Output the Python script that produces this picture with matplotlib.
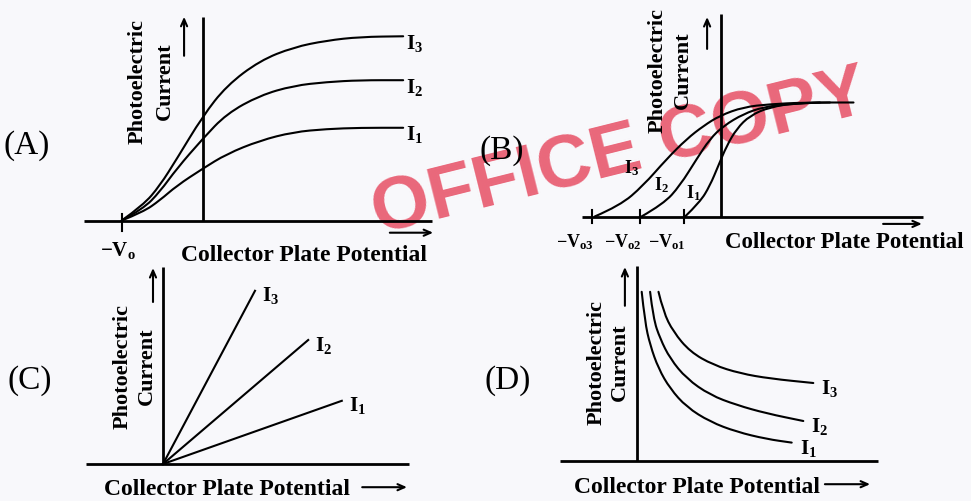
import matplotlib.pyplot as plt
from matplotlib.path import Path
from matplotlib.patches import PathPatch

W, H = 971, 502

plt.rcParams['font.family'] = ['Liberation Serif', 'DejaVu Serif']
plt.rcParams['mathtext.fontset'] = 'custom'
plt.rcParams['mathtext.rm'] = 'Liberation Serif'
plt.rcParams['mathtext.bf'] = 'Liberation Serif:bold'
plt.rcParams['mathtext.it'] = 'Liberation Serif:italic'

# ---- valeurs (potentiel, courant en unites arbitraires) ----
LABELS = [r'$\mathbf{I_1}$', r'$\mathbf{I_2}$', r'$\mathbf{I_3}$']

# (A) meme potentiel d'arret, courants de saturation differents
A_V = [-2.0, -1.47, -1.06, -0.64, 0.0, 0.59, 1.41, 2.24, 3.06, 3.89, 4.95]
A_I1 = [0, 0.14, 0.33, 0.57, 0.85, 1.09, 1.31, 1.45, 1.50, 1.52, 1.52]
A_I2 = [0, 0.19, 0.47, 0.85, 1.34, 1.75, 2.05, 2.21, 2.27, 2.30, 2.30]
A_I3 = [0, 0.25, 0.57, 1.01, 1.71, 2.21, 2.62, 2.84, 2.95, 3.01, 3.02]
A_STOP = -2.0

# (B) potentiels d'arret differents, meme saturation
B_STOP = [-0.93, -2.02, -3.23]
B_TICKS = [r'$\mathbf{-V_{o1}}$', r'$\mathbf{-V_{o2}}$', r'$\mathbf{-V_{o3}}$']
B_I1_V = [-0.89, -0.52, -0.27, -0.06, 0.15, 0.40, 0.73, 1.23, 1.90, 2.73]
B_I1 = [0, 0.25, 0.54, 0.89, 1.24, 1.54, 1.77, 1.92, 1.99, 2.0]
B_I2_V = [-1.98, -1.43, -1.02, -0.60, -0.27, 0.07, 0.57, 1.07, 1.65, 2.48]
B_I2 = [0, 0.22, 0.54, 1.01, 1.36, 1.59, 1.80, 1.92, 1.97, 2.0]
B_I3_V = [-3.15, -2.52, -1.94, -1.35, -0.85, -0.43, -0.02, 0.57, 1.23, 2.07, 3.32]
B_I3 = [0, 0.19, 0.54, 1.01, 1.36, 1.59, 1.77, 1.92, 1.97, 2.0, 2.0]

# (C) droites passant par l'origine (extremites)
C_END_V = [4.47, 3.63, 2.30]
C_END_I = [1.58, 3.10, 4.33]

# (D) courbes decroissantes
D_I1_V = [0.13, 0.21, 0.34, 0.55, 0.84, 1.25, 1.84, 2.50, 3.25, 3.88]
D_I1 = [4.23, 3.48, 2.90, 2.31, 1.81, 1.35, 0.98, 0.73, 0.55, 0.46]
D_I2_V = [0.34, 0.42, 0.59, 0.84, 1.25, 1.84, 2.50, 3.25, 4.17]
D_I2 = [4.23, 3.56, 3.06, 2.56, 2.06, 1.65, 1.40, 1.19, 1.00]
D_I3_V = [0.55, 0.67, 0.92, 1.34, 1.92, 2.59, 3.34, 4.42]
D_I3 = [4.23, 3.73, 3.23, 2.73, 2.40, 2.19, 2.06, 1.95]

AX_LW = 2.0
CURVE_LW = 1.5


def panel(fig, x0, y0, sx, sy):
    """Axes sur toute la figure, origine des donnees au pixel (x0, y0)."""
    ax = fig.add_axes([0, 0, 1, 1])
    ax.set_xlim(-x0 / sx, (W - x0) / sx)
    ax.set_ylim(-(H - y0) / sy, y0 / sy)
    ax.axis('off')
    ax.patch.set_alpha(0)
    return ax


def smooth(ax, xs, ys):
    pts = list(zip(xs, ys))
    verts, codes = [pts[0]], [Path.MOVETO]
    for i in range(1, len(pts) - 1):
        mid = ((pts[i][0] + pts[i + 1][0]) / 2, (pts[i][1] + pts[i + 1][1]) / 2)
        verts += [pts[i], mid]
        codes += [Path.CURVE3, Path.CURVE3]
    verts.append(pts[-1])
    codes.append(Path.LINETO)
    ax.add_patch(PathPatch(Path(verts, codes), fill=False, lw=CURVE_LW,
                           ec='black', capstyle='round'))


def arrow(ax, start, end):
    ax.annotate('', xy=end, xytext=start,
                arrowprops=dict(arrowstyle='->, head_length=0.5, head_width=0.22',
                                lw=1.5, color='black', shrinkA=0, shrinkB=0))


def axes_lines(ax, xmin, xmax, ymax):
    ax.plot([xmin, xmax], [0, 0], color='black', lw=AX_LW, solid_capstyle='butt')
    ax.plot([0, 0], [0, ymax], color='black', lw=AX_LW, solid_capstyle='butt')


def ylabel(ax, x1, x2, y, ax_arrow, y_arrow):
    ax.text(x1, y, 'Photoelectric', rotation=90, ha='center', va='center',
            fontsize=16, fontweight='bold')
    ax.text(x2, y, 'Current', rotation=90, ha='center', va='center',
            fontsize=16, fontweight='bold')
    arrow(ax, (ax_arrow, y_arrow[0]), (ax_arrow, y_arrow[1]))


def bold(ax, x, y, s, size=17, **kw):
    ax.text(x, y, s, fontsize=size, fontweight='bold', va='center', **kw)


fig = plt.figure(figsize=(W / 100, H / 100), dpi=100, facecolor='#f8f8fb')

# tampon "OFFICE COPY" sous les traces
bg = fig.add_axes([0, 0, 1, 1])
bg.axis('off')
bg.text(0.638, 0.695, 'OFFICE COPY', transform=bg.transAxes, fontsize=54,
        family='Liberation Sans', fontweight='bold', color='#e6435a', alpha=0.8,
        rotation=14, ha='center', va='center', rotation_mode='anchor')

# ---------------- (A) ----------------
ax = panel(fig, 202.7, 221.5, 40.5, 61)
axes_lines(ax, -2.93, 5.65, 3.34)
ax.plot([A_STOP, A_STOP], [-0.17, 0.1], color='black', lw=1.5)
for ys, lab in zip([A_I1, A_I2, A_I3], LABELS):
    smooth(ax, A_V, ys)
    bold(ax, A_V[-1] + 0.08, ys[-1] - 0.1, lab, size=15)
arrow(ax, (4.62, -0.2), (5.69, -0.2))
bold(ax, -2.09, -0.47, r'$\mathbf{-V_o}$', size=15, ha='center')
bold(ax, 2.5, -0.55, 'Collector Plate Potential', ha='center')
ylabel(ax, -1.6, -0.93, 2.3, -0.46, (2.7, 3.34))
ax.text(-4.34, 1.24, '(A)', fontsize=24, ha='center', va='center')

# ---------------- (B) ----------------
ax = panel(fig, 720.7, 217.5, 40, 57)
axes_lines(ax, -3.48, 5.06, 3.55)
for v in B_STOP:
    ax.plot([v, v], [-0.12, 0.12], color='black', lw=1.5)
for v, lab in zip(B_STOP, B_TICKS):
    bold(ax, v - 0.42, -0.43, lab, size=13, ha='center')
for xs, ys in [(B_I1_V, B_I1), (B_I2_V, B_I2), (B_I3_V, B_I3)]:
    smooth(ax, xs, ys)
for (x, y), lab in zip([(-0.69, 0.43), (-1.49, 0.57), (-2.22, 0.87)], LABELS):
    bold(ax, x, y, lab, size=13, ha='center')
arrow(ax, (4.06, -0.13), (5.03, -0.13))
bold(ax, 0.1, -0.43, 'Collector Plate Potential', size=16.5, ha='left')
ylabel(ax, -1.57, -0.94, 2.58, -0.34, (2.94, 3.5))
ax.text(-5.47, 1.18, '(B)', fontsize=24, ha='center', va='center')

# ---------------- (C) ----------------
ax = panel(fig, 163, 465, 40, 40)
axes_lines(ax, -1.93, 6.15, 4.93)
for v, i, lab in zip(C_END_V, C_END_I, LABELS):
    ax.plot([0, v], [0, i], color='black', lw=CURVE_LW)
    bold(ax, v + 0.18, i - 0.1, lab, size=15)
bold(ax, 1.6, -0.62, 'Collector Plate Potential', ha='center')
arrow(ax, (4.98, -0.58), (6.1, -0.58))
ylabel(ax, -1.0, -0.4, 2.46, -0.25, (4.05, 4.9))
ax.text(-3.33, 2.1, '(C)', fontsize=24, ha='center', va='center')

# ---------------- (D) ----------------
ax = panel(fig, 636.5, 462, 40, 40)
axes_lines(ax, -1.91, 6.04, 4.88)
for xs, ys, lab in [(D_I1_V, D_I1, LABELS[0]), (D_I2_V, D_I2, LABELS[1]),
                    (D_I3_V, D_I3, LABELS[2])]:
    smooth(ax, xs, ys)
    bold(ax, xs[-1] + 0.2, ys[-1] - 0.12, lab, size=15)
bold(ax, 1.51, -0.63, 'Collector Plate Potential', ha='center')
arrow(ax, (4.71, -0.58), (5.84, -0.58))
ylabel(ax, -0.99, -0.41, 2.49, -0.29, (3.88, 4.85))
ax.text(-3.21, 2.03, '(D)', fontsize=24, ha='center', va='center')

fig.savefig('out.png', dpi=100, facecolor=fig.get_facecolor())
